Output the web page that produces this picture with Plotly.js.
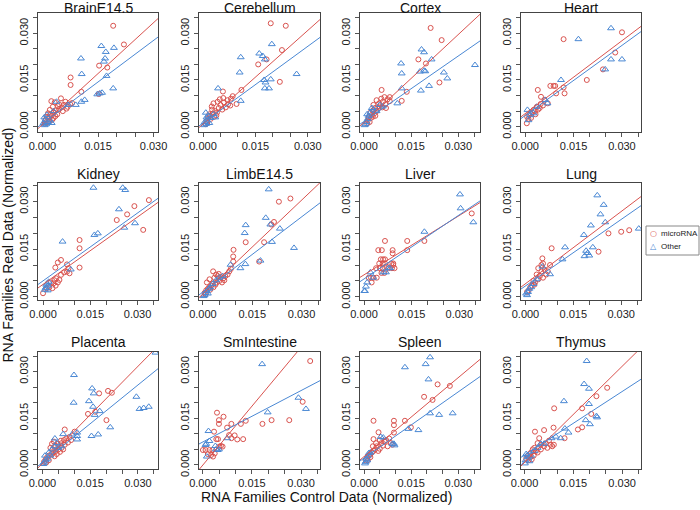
<!DOCTYPE html>
<html><head><meta charset="utf-8">
<script src="https://cdn.plot.ly/plotly-3.0.1.min.js"></script>
<style>html,body{margin:0;padding:0;background:#fff}#chart{width:700px;height:510px}</style>
</head><body><div id="chart"></div>
<script>
// ---------- DATA ----------
const tissues = ['BrainE14.5','Cerebellum','Cortex','Heart','Kidney','LimbE14.5','Liver','Lung','Placenta','SmIntestine','Spleen','Thymus'];
const seriesNames = ['microRNA','Other'];
const tickValues = [0,0.005,0.010,0.015,0.020,0.025,0.030,0.035];
const tickLabels = ['0.000','','','0.015','','','0.030',''];

const brainMicro = [[0.0191,0.0324],[0.0220,0.0264],[0.0153,0.0196],[0.0175,0.0190],[0.0076,0.0158],[0.0076,0.0134],[0.0105,0.0112],[0.0152,0.0105],
 [0.0024,0.0082],[0.0033,0.0078],[0.0050,0.0091],[0.0042,0.0066],[0.0028,0.0064],[0.0020,0.0054],[0.0015,0.0043],[0.0030,0.0045],[0.0036,0.0052],[0.0045,0.0056],
 [0.0052,0.0062],[0.0058,0.0070],[0.0062,0.0080],[0.0068,0.0064],[0.0075,0.0072],[0.0012,0.0032],[0.0020,0.0030],[0.0025,0.0036],[0.0008,0.0022],[0.0016,0.0025],
 [0.0030,0.0028],[0.0040,0.0040],[0.0010,0.0014],[0.0018,0.0018],[0.0026,0.0022],[0.0035,0.0034],[0.0055,0.0050],[0.0006,0.0010],[0.0022,0.0040],[0.0045,0.0072],[0.0065,0.0058],[0.0080,0.0076]];
const brainOther = [[0.0159,0.0259],[0.0193,0.0253],[0.0171,0.0240],[0.0169,0.0219],[0.0166,0.0209],[0.0104,0.0219],[0.0106,0.0169],[0.0173,0.0163],[0.0191,0.0123],
 [0.0161,0.0109],[0.0155,0.0107],[0.0148,0.0104],[0.0114,0.0086],[0.0105,0.0080],[0.0090,0.0070],[0.0069,0.0070],[0.0038,0.0080],[0.0005,0.0030],[0.0008,0.0022],
 [0.0003,0.0012],[0.0010,0.0008],[0.0015,0.0015],[0.0012,0.0038],[0.0020,0.0020],[0.0006,0.0005],[0.0025,0.0012],[0.0030,0.0050]];

const cerebellumMicro = [[0.0194,0.0332],[0.0237,0.0324],[0.0226,0.0246],[0.0182,0.0216],[0.0158,0.0200],[0.0220,0.0144],[0.0110,0.0118],[0.0057,0.0113],[0.0096,0.0073],
 [0.0025,0.0065],[0.0030,0.0075],[0.0042,0.0080],[0.0050,0.0070],[0.0060,0.0078],[0.0070,0.0085],[0.0080,0.0090],[0.0085,0.0098],[0.0078,0.0068],[0.0065,0.0062],
 [0.0055,0.0055],[0.0045,0.0060],[0.0035,0.0050],[0.0028,0.0042],[0.0020,0.0035],[0.0015,0.0028],[0.0022,0.0025],[0.0032,0.0032],[0.0040,0.0045],[0.0010,0.0018],
 [0.0018,0.0040],[0.0026,0.0055],[0.0048,0.0088],[0.0058,0.0092],[0.0072,0.0072],[0.0038,0.0036],[0.0012,0.0012],[0.0008,0.0008]];
const cerebellumOther = [[0.0197,0.0265],[0.0161,0.0235],[0.0171,0.0227],[0.0177,0.0216],[0.0108,0.0223],[0.0105,0.0174],[0.0268,0.0169],[0.0194,0.0152],[0.0175,0.0150],
 [0.0179,0.0142],[0.0177,0.0123],[0.0189,0.0123],[0.0043,0.0123],[0.0108,0.0083],[0.0008,0.0045],[0.0010,0.0030],[0.0005,0.0015],[0.0012,0.0020],[0.0018,0.0012],
 [0.0003,0.0005],[0.0015,0.0035],[0.0022,0.0028],[0.0030,0.0040],[0.0035,0.0030],[0.0009,0.0009]];

const cortexMicro = [[0.0212,0.0317],[0.0247,0.0278],[0.0173,0.0216],[0.0197,0.0203],[0.0240,0.0142],[0.0136,0.0112],[0.0120,0.0083],[0.0056,0.0118],
 [0.0030,0.0070],[0.0040,0.0085],[0.0048,0.0075],[0.0055,0.0090],[0.0060,0.0080],[0.0068,0.0072],[0.0075,0.0088],[0.0082,0.0095],[0.0082,0.0082],[0.0035,0.0060],
 [0.0028,0.0052],[0.0020,0.0045],[0.0025,0.0038],[0.0032,0.0042],[0.0040,0.0050],[0.0045,0.0058],[0.0015,0.0030],[0.0022,0.0028],[0.0012,0.0020],[0.0018,0.0015],
 [0.0010,0.0010],[0.0028,0.0032],[0.0036,0.0035],[0.0050,0.0065],[0.0058,0.0062],[0.0065,0.0095],[0.0070,0.0060]];
const cortexOther = [[0.0183,0.0248],[0.0191,0.0239],[0.0215,0.0216],[0.0118,0.0203],[0.0120,0.0171],[0.0178,0.0177],[0.0191,0.0180],[0.0195,0.0178],[0.0254,0.0174],
 [0.0265,0.0155],[0.0353,0.0198],[0.0120,0.0123],[0.0207,0.0131],[0.0181,0.0116],[0.0106,0.0075],[0.0005,0.0008],[0.0008,0.0015],[0.0012,0.0025],[0.0015,0.0035],
 [0.0020,0.0045],[0.0025,0.0060],[0.0030,0.0055],[0.0010,0.0040],[0.0002,0.0005],[0.0040,0.0050],[0.0050,0.0070],[0.0060,0.0065]];

const heartMicro = [[0.0119,0.0281],[0.0300,0.0303],[0.0279,0.0238],[0.0241,0.0184],[0.0191,0.0150],[0.0039,0.0118],[0.0078,0.0131],[0.0088,0.0131],[0.0093,0.0131],
 [0.0119,0.0126],[0.0096,0.0107],[0.0122,0.0107],[0.0049,0.0096],[0.0060,0.0086],[0.0070,0.0075],[0.0048,0.0073],[0.0036,0.0064],[0.0026,0.0054],[0.0016,0.0043],
 [0.0006,0.0032],[0.0005,0.0011],[0.0030,0.0050],[0.0040,0.0055],[0.0022,0.0046],[0.0012,0.0038],[0.0045,0.0060],[0.0055,0.0068],[0.0032,0.0040],[0.0018,0.0028],[0.0010,0.0025]];
const heartOther = [[0.0266,0.0316],[0.0165,0.0281],[0.0266,0.0216],[0.0300,0.0216],[0.0248,0.0184],[0.0111,0.0150],[0.0062,0.0086],[0.0069,0.0075],[0.0007,0.0054],
 [0.0016,0.0037],[0.0010,0.0021],[0.0036,0.0064],[0.0026,0.0043]];

const kidneyMicro = [[0.0336,0.0305],[0.0290,0.0286],[0.0267,0.0260],[0.0234,0.0242],[0.0318,0.0211],[0.0116,0.0179],[0.0116,0.0153],[0.0116,0.0092],[0.0057,0.0116],
 [0.0047,0.0108],[0.0039,0.0092],[0.0076,0.0102],[0.0081,0.0090],[0.0076,0.0079],[0.0084,0.0074],[0.0067,0.0077],[0.0057,0.0069],[0.0052,0.0053],[0.0042,0.0058],
 [0.0036,0.0052],[0.0047,0.0045],[0.0033,0.0042],[0.0030,0.0027],[0.0012,0.0027],[0.0000,0.0011],[0.0020,0.0030],[0.0040,0.0035],[0.0025,0.0045]];
const kidneyOther = [[0.0160,0.0344],[0.0253,0.0344],[0.0261,0.0337],[0.0241,0.0276],[0.0292,0.0232],[0.0258,0.0218],[0.0174,0.0200],[0.0163,0.0195],[0.0062,0.0174],
 [0.0088,0.0086],[0.0013,0.0042],[0.0016,0.0035],[0.0008,0.0028],[0.0006,0.0022],[0.0018,0.0047],[0.0010,0.0038],[0.0015,0.0020]];

const limbMicro = [[0.0266,0.0310],[0.0231,0.0300],[0.0216,0.0236],[0.0208,0.0228],[0.0130,0.0172],[0.0186,0.0172],[0.0093,0.0148],[0.0092,0.0127],[0.0092,0.0111],
 [0.0171,0.0111],[0.0031,0.0080],[0.0040,0.0070],[0.0035,0.0060],[0.0045,0.0065],[0.0055,0.0062],[0.0062,0.0058],[0.0068,0.0065],[0.0075,0.0070],[0.0080,0.0080],
 [0.0085,0.0088],[0.0050,0.0050],[0.0042,0.0045],[0.0030,0.0042],[0.0025,0.0035],[0.0020,0.0030],[0.0015,0.0025],[0.0010,0.0020],[0.0005,0.0012],[0.0022,0.0022],
 [0.0032,0.0030],[0.0038,0.0038],[0.0012,0.0045],[0.0020,0.0055],[0.0058,0.0045],[0.0065,0.0052],[0.0008,0.0008],[0.0048,0.0072]];
const limbOther = [[0.0200,0.0339],[0.0191,0.0249],[0.0130,0.0226],[0.0127,0.0201],[0.0205,0.0228],[0.0234,0.0215],[0.0210,0.0173],[0.0277,0.0154],[0.0129,0.0103],
 [0.0114,0.0090],[0.0175,0.0114],[0.0084,0.0101],[0.0005,0.0005],[0.0008,0.0012],[0.0012,0.0018],[0.0018,0.0025],[0.0022,0.0030],[0.0030,0.0040],[0.0040,0.0052],
 [0.0050,0.0060],[0.0060,0.0065],[0.0002,0.0002],[0.0015,0.0010]];

const liverMicro = [[0.0339,0.0263],[0.0190,0.0176],[0.0136,0.0176],[0.0066,0.0176],[0.0045,0.0147],[0.0056,0.0147],[0.0090,0.0147],[0.0090,0.0137],[0.0136,0.0147],
 [0.0053,0.0118],[0.0060,0.0118],[0.0066,0.0118],[0.0048,0.0105],[0.0059,0.0105],[0.0066,0.0105],[0.0038,0.0090],[0.0050,0.0090],[0.0059,0.0090],[0.0086,0.0105],
 [0.0092,0.0105],[0.0096,0.0090],[0.0088,0.0090],[0.0092,0.0100],[0.0055,0.0075],[0.0064,0.0075],[0.0040,0.0060],[0.0030,0.0060],[0.0022,0.0060],[0.0015,0.0060],
 [0.0024,0.0045],[0.0070,0.0095],[0.0077,0.0090]];
const liverOther = [[0.0302,0.0323],[0.0304,0.0279],[0.0344,0.0235],[0.0190,0.0205],[0.0069,0.0077],[0.0061,0.0077],[0.0077,0.0090],[0.0082,0.0090],[0.0029,0.0060],
 [0.0020,0.0077],[0.0010,0.0045],[0.0006,0.0032],[0.0001,0.0018],[0.0003,0.0018]];

const lungMicro = [[0.0325,0.0210],[0.0300,0.0205],[0.0260,0.0200],[0.0082,0.0153],[0.0229,0.0142],[0.0053,0.0121],[0.0055,0.0105],[0.0077,0.0100],
 [0.0020,0.0035],[0.0030,0.0045],[0.0040,0.0055],[0.0045,0.0065],[0.0050,0.0080],[0.0035,0.0070],[0.0060,0.0085],[0.0070,0.0080],[0.0025,0.0050],[0.0015,0.0030],
 [0.0010,0.0020],[0.0005,0.0015],[0.0055,0.0060],[0.0065,0.0070],[0.0028,0.0038],[0.0040,0.0090],[0.0050,0.0100]];
const lungOther = [[0.0225,0.0320],[0.0245,0.0290],[0.0235,0.0260],[0.0250,0.0235],[0.0205,0.0225],[0.0183,0.0195],[0.0355,0.0215],[0.0124,0.0156],[0.0211,0.0156],
 [0.0190,0.0145],[0.0195,0.0138],[0.0200,0.0130],[0.0185,0.0128],[0.0116,0.0118],[0.0053,0.0095],[0.0077,0.0071],[0.0002,0.0010],[0.0008,0.0015],[0.0012,0.0025],
 [0.0018,0.0030],[0.0025,0.0040],[0.0035,0.0055],[0.0005,0.0005]];

const placentaMicro = [[0.0206,0.0238],[0.0218,0.0232],[0.0178,0.0230],[0.0166,0.0171],[0.0143,0.0164],[0.0201,0.0144],[0.0036,0.0075],[0.0070,0.0114],[0.0101,0.0107],
 [0.0030,0.0068],[0.0040,0.0062],[0.0050,0.0060],[0.0060,0.0070],[0.0068,0.0080],[0.0075,0.0085],[0.0085,0.0090],[0.0090,0.0080],[0.0080,0.0072],[0.0070,0.0065],
 [0.0060,0.0055],[0.0050,0.0050],[0.0042,0.0045],[0.0035,0.0040],[0.0028,0.0035],[0.0020,0.0030],[0.0015,0.0025],[0.0010,0.0018],[0.0005,0.0010],[0.0025,0.0055],
 [0.0032,0.0050],[0.0045,0.0035],[0.0055,0.0042],[0.0065,0.0050],[0.0012,0.0008],[0.0020,0.0015],[0.0038,0.0028],[0.0048,0.0068],[0.0058,0.0078]];
const placentaOther = [[0.0355,0.0361],[0.0099,0.0289],[0.0156,0.0246],[0.0161,0.0230],[0.0146,0.0205],[0.0295,0.0219],[0.0098,0.0200],[0.0159,0.0187],[0.0180,0.0173],
 [0.0164,0.0161],[0.0305,0.0180],[0.0318,0.0183],[0.0334,0.0187],[0.0213,0.0121],[0.0175,0.0098],[0.0154,0.0093],[0.0109,0.0104],[0.0109,0.0093],[0.0109,0.0082],
 [0.0093,0.0098],[0.0065,0.0099],[0.0039,0.0085],[0.0005,0.0008],[0.0010,0.0015],[0.0015,0.0020],[0.0008,0.0030],[0.0020,0.0040],[0.0025,0.0030],[0.0030,0.0050],
 [0.0038,0.0060],[0.0045,0.0070],[0.0050,0.0055],[0.0003,0.0003],[0.0060,0.0060]];

const smIntestineMicro = [[0.0328,0.0334],[0.0305,0.0203],[0.0043,0.0168],[0.0063,0.0155],[0.0049,0.0144],[0.0049,0.0132],[0.0087,0.0132],[0.0074,0.0120],[0.0131,0.0142],
 [0.0116,0.0132],[0.0182,0.0132],[0.0210,0.0144],[0.0264,0.0144],[0.0034,0.0107],[0.0080,0.0096],[0.0097,0.0095],[0.0087,0.0086],[0.0105,0.0082],[0.0123,0.0083],
 [0.0041,0.0083],[0.0046,0.0083],[0.0050,0.0059],[0.0055,0.0061],[0.0060,0.0059],[0.0000,0.0048],[0.0008,0.0048],[0.0020,0.0048],[0.0029,0.0048],[0.0015,0.0035],
 [0.0025,0.0032],[0.0036,0.0037],[0.0031,0.0027]];
const smIntestineOther = [[0.0181,0.0324],[0.0292,0.0216],[0.0315,0.0180],[0.0198,0.0169],[0.0017,0.0109],[0.0020,0.0077],[0.0010,0.0068],[0.0008,0.0064],[0.0074,0.0086],
 [0.0038,0.0061],[0.0040,0.0050],[0.0045,0.0048],[0.0049,0.0050],[0.0012,0.0027]];

const spleenMicro = [[0.0273,0.0254],[0.0234,0.0259],[0.0191,0.0219],[0.0218,0.0209],[0.0130,0.0142],[0.0095,0.0142],[0.0095,0.0128],[0.0095,0.0104],[0.0149,0.0121],
 [0.0030,0.0142],[0.0046,0.0105],[0.0030,0.0083],[0.0050,0.0080],[0.0055,0.0070],[0.0065,0.0075],[0.0060,0.0062],[0.0070,0.0080],[0.0080,0.0085],[0.0085,0.0070],
 [0.0090,0.0065],[0.0040,0.0060],[0.0035,0.0050],[0.0030,0.0045],[0.0025,0.0040],[0.0020,0.0035],[0.0015,0.0030],[0.0010,0.0022],[0.0005,0.0015],[0.0045,0.0045],
 [0.0050,0.0052],[0.0020,0.0025],[0.0012,0.0015],[0.0075,0.0060],[0.0028,0.0060],[0.0038,0.0070]];
const spleenOther = [[0.0210,0.0346],[0.0196,0.0324],[0.0130,0.0314],[0.0205,0.0275],[0.0210,0.0166],[0.0239,0.0161],[0.0282,0.0166],[0.0141,0.0116],[0.0173,0.0112],
 [0.0053,0.0090],[0.0061,0.0088],[0.0090,0.0068],[0.0095,0.0068],[0.0097,0.0063],[0.0005,0.0010],[0.0008,0.0020],[0.0012,0.0030],[0.0015,0.0038],[0.0020,0.0040],
 [0.0003,0.0005],[0.0010,0.0015]];

const thymusMicro = [[0.0254,0.0248],[0.0221,0.0221],[0.0177,0.0182],[0.0205,0.0164],[0.0091,0.0182],[0.0177,0.0121],[0.0164,0.0114],[0.0032,0.0107],[0.0060,0.0112],
 [0.0089,0.0120],[0.0123,0.0086],[0.0080,0.0065],[0.0090,0.0065],[0.0085,0.0060],[0.0045,0.0086],[0.0040,0.0070],[0.0050,0.0065],[0.0060,0.0060],[0.0070,0.0055],
 [0.0030,0.0055],[0.0025,0.0050],[0.0035,0.0045],[0.0020,0.0040],[0.0015,0.0035],[0.0010,0.0030],[0.0005,0.0020],[0.0018,0.0025],[0.0028,0.0030],[0.0040,0.0040],
 [0.0012,0.0015],[0.0022,0.0018],[0.0050,0.0050],[0.0065,0.0070],[0.0075,0.0078]];
const thymusOther = [[0.0191,0.0334],[0.0183,0.0260],[0.0198,0.0245],[0.0121,0.0205],[0.0198,0.0196],[0.0188,0.0144],[0.0201,0.0131],[0.0221,0.0157],[0.0223,0.0153],
 [0.0124,0.0117],[0.0135,0.0104],[0.0111,0.0086],[0.0096,0.0091],[0.0083,0.0086],[0.0005,0.0035],[0.0008,0.0030],[0.0012,0.0025],[0.0003,0.0015],[0.0015,0.0012],
 [0.0020,0.0030],[0.0040,0.0055],[0.0050,0.0068],[0.0060,0.0068],[0.0030,0.0045],[0.0001,0.0005]];

// fitted lines (intercept, slope) per tissue
const microIntercept = [0.0007,0.0009,0.0014,0.0042,0.0039,0.0009,0.0069,0.0041,0.0005,0.0000,0.0027,0.0008];
const microSlope     = [1.09, 1.00, 0.94, 0.78, 0.709, 0.986, 0.625, 0.76, 1.04, 1.26, 0.846, 1.03];
const otherIntercept = [0.0010,0.0012,0.0017,0.0036,0.0050,0.0015,0.0056,0.0034,0.0008,0.0074,0.0022,0.0032];
const otherSlope     = [0.89, 0.82, 0.70, 0.75, 0.714, 0.79, 0.675, 0.70, 0.83, 0.55, 0.71, 0.68];

const microData = [brainMicro,cerebellumMicro,cortexMicro,heartMicro,kidneyMicro,limbMicro,liverMicro,lungMicro,placentaMicro,smIntestineMicro,spleenMicro,thymusMicro];
const otherData = [brainOther,cerebellumOther,cortexOther,heartOther,kidneyOther,limbOther,liverOther,lungOther,placentaOther,smIntestineOther,spleenOther,thymusOther];

// ---------- LAYOUT / STYLE ----------
const W = 700, H = 510;
const FONT = 'Liberation Sans, Arial, Helvetica, sans-serif';
const RED = '#d9534f', BLUE = '#4a88d4';
const colPx = [[38,158],[199,320],[360,480],[521,641]];
const rowPx = [[13,132],[183,300],[352,469]];
const xRanges = [[-0.0012,0.0312],[-0.00115,0.0335],[-0.00127,0.0369],[-0.0013,0.0359],
                 [-0.0016,0.0365],[-0.0012,0.0356],[-0.00126,0.0365],[-0.0014,0.0362],
                 [-0.0014,0.0363],[-0.0012,0.0358],[-0.0013,0.0369],[-0.0011,0.0358]];
const yRanges = [[-0.0017,0.0365],[-0.00104,0.0359],[-0.0013,0.0363]];
const titleY = [8,173.5,342];
const lineX = [-0.01,0.06];

const traces = [];
const layout = {
  width: W, height: H, margin:{l:0,r:0,t:0,b:0},
  paper_bgcolor:'#fff', plot_bgcolor:'#fff', showlegend:false,
  font:{family:FONT, color:'#222'}, annotations:[], shapes:[]
};

tissues.forEach((name,i)=>{
  const row = Math.floor(i/4), col = i%4;
  const sx = i===0 ? '' : String(i+1);
  const xa = 'x'+sx, ya = 'y'+sx;
  const [l,r] = colPx[col], [t,b] = rowPx[row];
  const common = {
    tickmode:'array', tickvals:tickValues, ticktext:tickLabels,
    ticks:'outside', ticklen:4, tickwidth:1, tickcolor:'#555',
    showline:true, mirror:true, linecolor:'#444', linewidth:1.2,
    showgrid:false, zeroline:false, fixedrange:true,
    tickfont:{size:11, color:'#222', family:FONT}
  };
  layout['xaxis'+sx] = Object.assign({}, common, {domain:[l/W, r/W], range:xRanges[i], anchor:ya});
  layout['yaxis'+sx] = Object.assign({}, common, {domain:[1-b/H, 1-t/H], range:yRanges[row], anchor:xa, tickangle:-90});

  const mi = microData[i], ot = otherData[i];
  traces.push({type:'scatter', mode:'markers', xaxis:xa, yaxis:ya, name:seriesNames[0],
    x: mi.map(p=>p[0]), y: mi.map(p=>p[1]),
    marker:{symbol:'circle-open', size:5, color:RED, line:{width:1, color:RED}}});
  traces.push({type:'scatter', mode:'markers', xaxis:xa, yaxis:ya, name:seriesNames[1],
    x: ot.map(p=>p[0]), y: ot.map(p=>p[1]),
    marker:{symbol:'triangle-up-open', size:6, color:BLUE, line:{width:1, color:BLUE}}});
  traces.push({type:'scatter', mode:'lines', xaxis:xa, yaxis:ya, hoverinfo:'skip',
    x: lineX, y: lineX.map(v=>microIntercept[i]+microSlope[i]*v), line:{color:RED, width:1}});
  traces.push({type:'scatter', mode:'lines', xaxis:xa, yaxis:ya, hoverinfo:'skip',
    x: lineX, y: lineX.map(v=>otherIntercept[i]+otherSlope[i]*v), line:{color:BLUE, width:1}});

  layout.annotations.push({text:name, xref:'paper', yref:'paper', x:(l+r)/2/W, y:1-titleY[row]/H,
    xanchor:'center', yanchor:'middle', showarrow:false, borderpad:0, font:{size:14, color:'#111', family:FONT}});
});

// axis titles
layout.annotations.push({text:'RNA Families Control Data (Normalized)', xref:'paper', yref:'paper',
  x:326.5/W, y:1-497/H, xanchor:'center', yanchor:'middle', showarrow:false, font:{size:14, color:'#111', family:FONT}});
layout.annotations.push({text:'RNA Families Real Data (Normalized)', xref:'paper', yref:'paper',
  x:7.5/W, y:1-245/H, xanchor:'center', yanchor:'middle', textangle:-90, showarrow:false, font:{size:14, color:'#111', family:FONT}});

// legend (drawn box + symbols + labels)
layout.shapes.push({type:'rect', xref:'paper', yref:'paper', x0:646/W, x1:699/W, y0:1-255/H, y1:1-226/H,
  line:{color:'#888', width:1}, fillcolor:'rgba(0,0,0,0)'});
const legendRows = [234, 246];
const legendSym = ['○','△'], legendCol = [RED, BLUE];
seriesNames.forEach((s,k)=>{
  layout.annotations.push({text:legendSym[k], xref:'paper', yref:'paper', x:653/W, y:1-legendRows[k]/H,
    xanchor:'center', yanchor:'middle', showarrow:false, font:{size:8, color:legendCol[k], family:'DejaVu Sans'}});
  layout.annotations.push({text:s, xref:'paper', yref:'paper', x:659/W, y:1-legendRows[k]/H,
    xanchor:'left', yanchor:'middle', showarrow:false, font:{size:8, color:'#222', family:FONT}});
});

Plotly.newPlot('chart', traces, layout, {displayModeBar:false, staticPlot:true});
</script>
</body></html>
